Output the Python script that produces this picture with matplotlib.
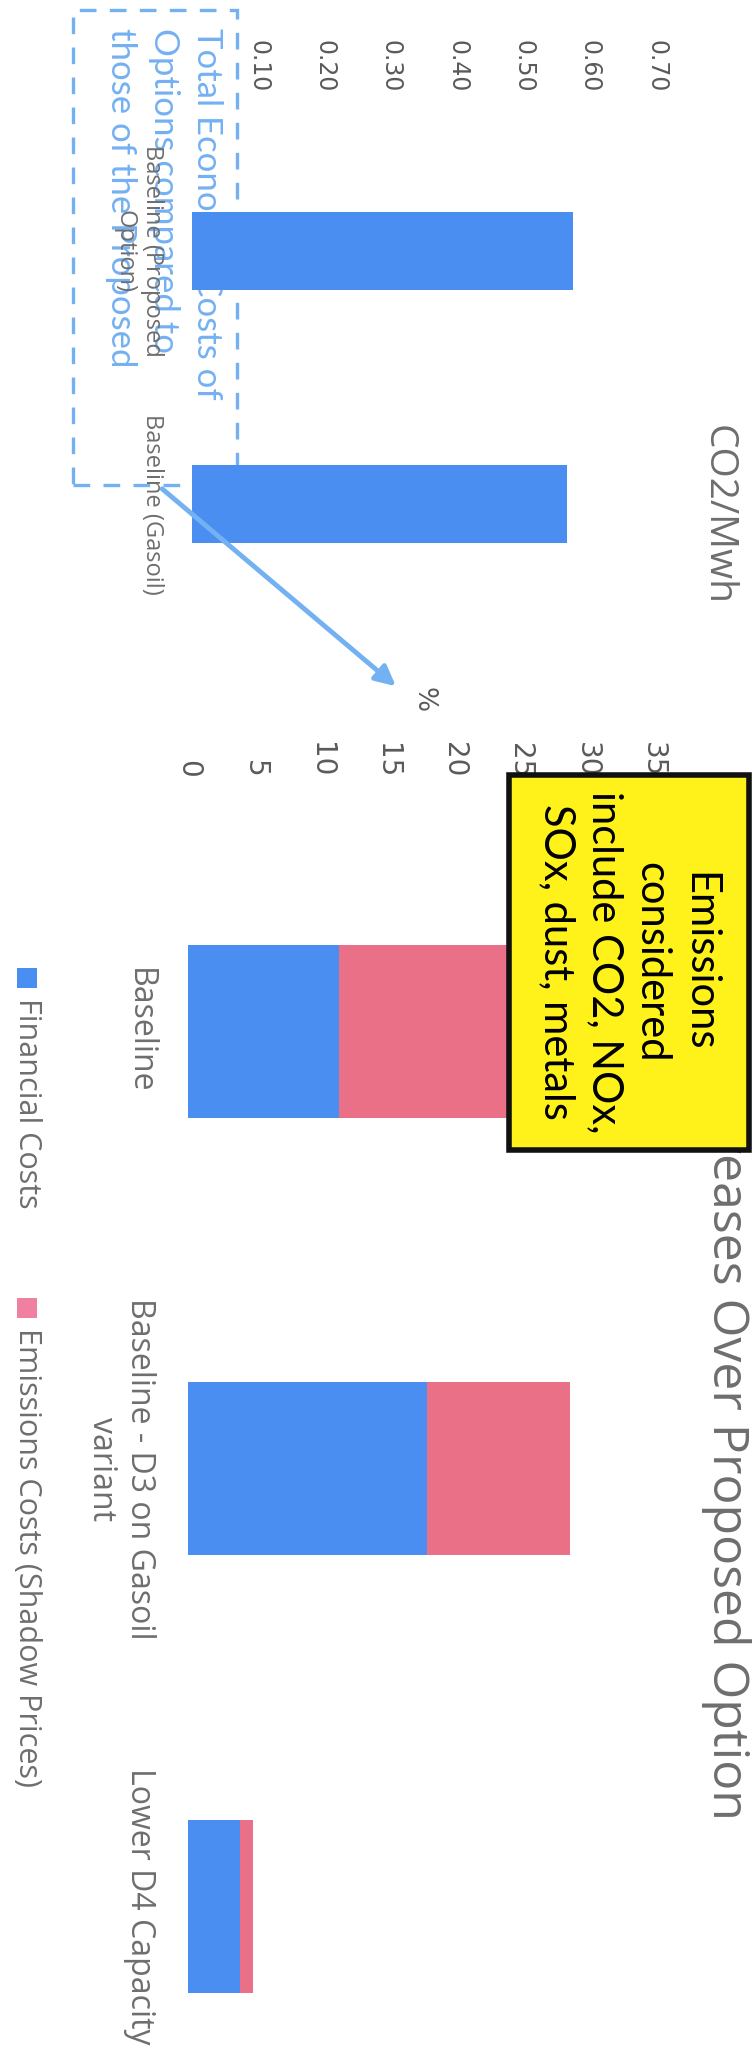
import matplotlib
matplotlib.use("Agg")
import matplotlib.pyplot as plt
from matplotlib.patches import Rectangle, FancyArrowPatch

# ---- data ----
co2_categories = ["Baseline (Proposed\nOption)", "Baseline (Gasoil)"]
co2_values = [0.575, 0.565]
co2_ticks = [0.10, 0.20, 0.30, 0.40, 0.50, 0.60, 0.70]

cost_categories = ["Baseline", "Baseline - D3 on Gasoil\nvariant", "Lower D4 Capacity"]
financial_costs = [11.4, 18.0, 3.9]
emissions_costs = [15.0, 10.8, 1.0]
cost_ticks = [0, 5, 10, 15, 20, 25, 30, 35]

series_names = ["Financial Costs", "Emissions Costs (Shadow Prices)"]
note_lines = ["Emissions", "considered", "include CO2, NOx,", "SOx, dust, metals"]
box_lines = ["Total Economic Costs of", "Options compared to", "those of the Proposed"]
cost_title_hidden = "Cost Incr"
cost_title_shown = "eases Over Proposed Option"

BLUE = "#4a8ef2"
PINK = "#ea7088"
PINK_KEY = "#f080a2"
LIGHT_BLUE = "#74b1f2"
GREY = "#6e6e6e"
TICK_GREY = "#5a5a5a"

SANS = ["Open Sans", "DejaVu Sans"]
plt.rcParams["font.family"] = SANS

W, H = 756, 2067
fig = plt.figure(figsize=(W / 100, H / 100), dpi=100)
fig.patch.set_facecolor("white")
renderer = fig.canvas.get_renderer()


def fx(x):
    return x / W


def fy(y):
    return 1 - y / H


def axes_box(x0, x1, y0, y1):
    # pixel box (x right, y down) -> figure-fraction rect
    return [fx(x0), fy(y1), (x1 - x0) / W, (y1 - y0) / H]


# ---- CO2 per MWh chart (drawn turned a quarter clockwise) ----
ax1 = fig.add_axes(axes_box(192, 192 + 0.75 * 663, 124.5, 630.5))
ax1.barh(range(len(co2_categories)), co2_values, height=0.31, color=BLUE, zorder=2)
ax1.set_xlim(0, 0.75)
ax1.set_ylim(len(co2_categories) - 0.5, -0.5)
ax1.xaxis.tick_top()
ax1.set_xticks(co2_ticks)
ax1.set_xticklabels([f"{t:.2f}" for t in co2_ticks], rotation=-90,
                    family="DejaVu Sans", fontsize=17, color=TICK_GREY)
ax1.tick_params(axis="x", length=0, pad=23)
ax1.set_yticks(range(len(co2_categories)))
ax1.set_yticklabels(co2_categories, rotation=-90, va="center", ha="right",
                    multialignment="center", fontsize=17, color=GREY)
ax1.tick_params(axis="y", length=0, pad=20)
for s in ax1.spines.values():
    s.set_visible(False)
ax1.patch.set_alpha(0)

# dashed callout box with its text, sitting beneath the bars
ax1.add_patch(Rectangle((fx(73), fy(485)), (237 - 73) / W, (485 - 10) / H,
                        transform=fig.transFigure, fill=False, edgecolor=LIGHT_BLUE,
                        linewidth=2.4, linestyle=(0, (5, 4)), clip_on=False, zorder=1))
ax1.text(fx(223), fy(28), "\n".join(box_lines), transform=fig.transFigure,
         rotation=-90, ha="right", va="top", multialignment="left",
         family=["Lato", "DejaVu Sans"], fontsize=25, color=LIGHT_BLUE,
         linespacing=1.42, zorder=1, clip_on=False)

fig.text(fx(718), fy(515), "CO2/Mwh", rotation=-90, ha="center", va="center",
         fontsize=28, color=GREY)

# ---- cost increase chart ----
ax2 = fig.add_axes(axes_box(188, 188 + 37.5 * 13.28, 812.5, 2125))
pos = range(len(cost_categories))
ax2.barh(pos, financial_costs, height=0.395, color=BLUE, zorder=2)
ax2.barh(pos, emissions_costs, left=financial_costs, height=0.395, color=PINK, zorder=2)
ax2.set_xlim(0, 37.5)
ax2.set_ylim(len(cost_categories) - 0.5, -0.5)
ax2.xaxis.tick_top()
ax2.set_xticks(cost_ticks)
ax2.set_xticklabels([str(t) for t in cost_ticks], rotation=-90,
                    family="DejaVu Sans", fontsize=20, color=TICK_GREY)
ax2.tick_params(axis="x", length=0, pad=25)
ax2.set_yticks(list(pos))
ax2.set_yticklabels(cost_categories, rotation=-90, va="center", ha="right",
                    multialignment="center", fontsize=23, color=GREY)
ax2.tick_params(axis="y", length=0, pad=23)
for s in ax2.spines.values():
    s.set_visible(False)
ax2.patch.set_alpha(0)

fig.text(fx(423), fy(700), "%", rotation=-90, ha="center", va="center",
         family="DejaVu Sans", fontsize=19, color=TICK_GREY)

# chart title: the leading words run under the yellow note box
title_size = 36
probe = fig.text(0, 0, cost_title_hidden, fontsize=title_size)
hidden_len = probe.get_window_extent(renderer).width
probe.remove()
fig.text(fx(726), fy(1153 - hidden_len), cost_title_hidden + cost_title_shown,
         rotation=-90, ha="center", va="top", fontsize=title_size, color=GREY,
         zorder=0.5)

# legend keys, laid out along the left edge
for (name, col, ytop) in [(series_names[0], BLUE, 968), (series_names[1], PINK_KEY, 1298)]:
    fig.patches.append(Rectangle((fx(17), fy(ytop + 20)), 20 / W, 20 / H,
                                 transform=fig.transFigure, facecolor=col,
                                 edgecolor="none", zorder=2))
    fig.text(fx(27), fy(ytop + 30), name, rotation=-90, ha="center", va="top",
             fontsize=22, color=GREY)

# yellow note box
fig.patches.append(Rectangle((fx(509), fy(1150)), (749 - 509) / W, (1150 - 775) / H,
                             transform=fig.transFigure, facecolor="#fff21a",
                             edgecolor="#111111", linewidth=4, zorder=5))
fig.text(fx(628), fy(962), "\n".join(note_lines), rotation=-90, ha="center",
         va="center", multialignment="center", family=["Lato", "DejaVu Sans"],
         fontsize=30, color="black", linespacing=1.3, zorder=6)

# arrow from the callout box to the percentage axis
fig.patches.append(FancyArrowPatch((fx(160), fy(487)), (fx(398), fy(688)),
                                   transform=fig.transFigure, arrowstyle="-|>",
                                   mutation_scale=30, color=LIGHT_BLUE,
                                   linewidth=3.5, zorder=4))

fig.savefig("out.png", dpi=100, facecolor="white")
